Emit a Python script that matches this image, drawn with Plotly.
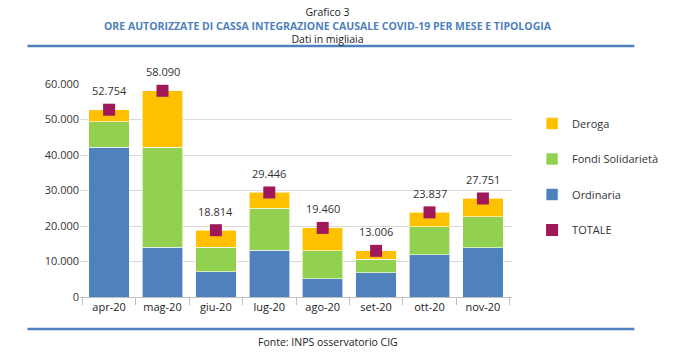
import plotly.graph_objects as go

mesi = ["apr-20", "mag-20", "giu-20", "lug-20", "ago-20", "set-20", "ott-20", "nov-20"]
ordinaria = [42170, 14080, 7130, 13150, 5160, 6850, 11920, 13900]
fondi = [7130, 28090, 6870, 11840, 7890, 3850, 7880, 8720]
totale = [52754, 58090, 18814, 29446, 19460, 13006, 23837, 27751]
deroga = [t - o - f for t, o, f in zip(totale, ordinaria, fondi)]
etichette = ["52.754", "58.090", "18.814", "29.446", "19.460", "13.006", "23.837", "27.751"]

font_family = "Open Sans"
line_col = dict(color="rgba(255,255,255,0.6)", width=1)

fig = go.Figure()
fig.add_trace(go.Bar(x=mesi, y=ordinaria, name="Ordinaria", marker=dict(color="#4f81bd", line=line_col),
                     legendrank=3, legendgroup="c"))
fig.add_trace(go.Bar(x=mesi, y=fondi, name="Fondi Solidarietà", marker=dict(color="#92d050", line=line_col),
                     legendrank=2, legendgroup="b"))
fig.add_trace(go.Bar(x=mesi, y=deroga, name="Deroga", marker=dict(color="#ffc000", line=line_col),
                     legendrank=1, legendgroup="a"))
fig.add_trace(go.Scatter(x=mesi, y=totale, name="TOTALE", mode="markers",
                         marker=dict(symbol="square", size=12, color="#a0185a"),
                         legendrank=4, legendgroup="d"))

annotations = []
for m, t, lab in zip(mesi, totale, etichette):
    annotations.append(dict(x=m, y=t, text=lab, showarrow=False, yshift=19,
                            font=dict(size=11, color="#333333", family=font_family)))

W, H = 675, 353
L, R, T, B = 80, 143, 84, 56
pw, ph = W - L - R, H - T - B

def px(x):
    return (x - L) / pw

def py(y):
    return (H - B - y) / ph

titolo = ("Grafico 3<br>"
          "<span style='color:#4f81bd'><b>ORE AUTORIZZATE DI CASSA INTEGRAZIONE CAUSALE COVID-19 PER MESE E TIPOLOGIA</b></span><br>"
          "Dati in migliaia")

annotations += [
    dict(x=px(340), y=py(25.5), xref="paper", yref="paper", yanchor="middle", align="center",
         text=titolo, showarrow=False, font=dict(size=10.5, color="#222222", family=font_family)),
    dict(x=px(340), y=py(342), xref="paper", yref="paper", yanchor="middle", text="Fonte: INPS osservatorio CIG",
         showarrow=False, font=dict(size=10.5, color="#222222", family=font_family)),
]

shapes = [
    dict(type="line", xref="paper", yref="paper", x0=px(25), x1=px(660), y0=py(46), y1=py(46),
         line=dict(color="#4f81bd", width=2.5)),
    dict(type="line", xref="paper", yref="paper", x0=px(25), x1=px(660), y0=py(329), y1=py(329),
         line=dict(color="#4f81bd", width=2.5)),
]

fig.update_layout(
    width=W, height=H,
    margin=dict(l=L, r=R, t=T, b=B),
    barmode="stack", bargap=0.24,
    separators=",.",
    paper_bgcolor="white", plot_bgcolor="white",
    font=dict(family=font_family, size=11, color="#333333"),
    showlegend=True,
    legend=dict(x=px(553), y=py(109), xanchor="left", yanchor="top", traceorder="grouped",
                tracegroupgap=16.5, font=dict(size=11, color="#333333"), itemwidth=30),
    annotations=annotations,
    shapes=shapes,
    xaxis=dict(showline=True, linecolor="#bfbfbf", ticks="outside", tickson="boundaries",
               ticklen=7, tickcolor="#bfbfbf", showgrid=False, tickfont=dict(size=11, color="#222222")),
    yaxis=dict(range=[0, 60000], dtick=10000, tickformat=",d", showgrid=True, gridcolor="#d9d9d9",
               gridwidth=1, zeroline=False, showline=False, tickfont=dict(size=11, color="#333333")),
)

fig.write_html("out.html")
